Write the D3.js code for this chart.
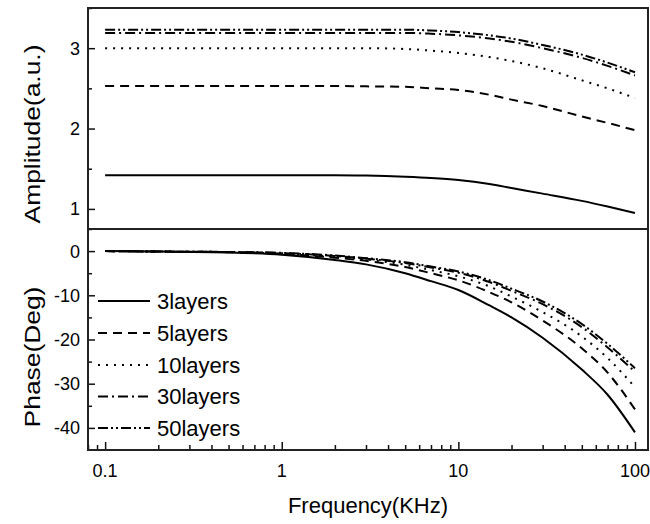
<!DOCTYPE html>
<html>
<head>
<meta charset="utf-8">
<script src="https://cdn.jsdelivr.net/npm/d3@7"></script>
<style>
  body { margin: 0; background: #fff; }
  svg { font-family: Arial, "Liberation Sans", sans-serif; }
</style>
</head>
<body>
<svg id="chart" width="650" height="524"></svg>
<script>
// Data
const freqs = [0.1, 0.2, 0.5, 1, 2, 3, 5, 7, 10, 15, 20, 30, 50, 70, 100];
const seriesNames = ['3layers', '5layers', '10layers', '30layers', '50layers'];

const amp3 = [1.42, 1.42, 1.42, 1.42, 1.42, 1.415, 1.40, 1.385, 1.36, 1.31, 1.26, 1.19, 1.10, 1.03, 0.95];
const amp5 = [2.53, 2.53, 2.53, 2.53, 2.53, 2.525, 2.52, 2.50, 2.48, 2.42, 2.36, 2.28, 2.15, 2.07, 1.98];
const amp10 = [3.0, 3.0, 3.0, 3.0, 3.0, 3.0, 2.99, 2.97, 2.94, 2.89, 2.84, 2.75, 2.60, 2.50, 2.38];
const amp30 = [3.19, 3.19, 3.19, 3.19, 3.19, 3.19, 3.19, 3.18, 3.16, 3.12, 3.08, 3.0, 2.88, 2.78, 2.66];
const amp50 = [3.23, 3.23, 3.23, 3.23, 3.23, 3.23, 3.23, 3.22, 3.20, 3.16, 3.12, 3.04, 2.92, 2.82, 2.70];

const ph3 = [0, -0.1, -0.3, -0.8, -2.0, -3.0, -5.0, -6.8, -8.8, -12.3, -15.0, -19.6, -26.8, -32.5, -41.0];
const ph5 = [0, -0.1, -0.25, -0.6, -1.5, -2.2, -3.6, -5.0, -6.6, -9.3, -11.6, -15.7, -22.0, -27.5, -35.8];
const ph10 = [0, -0.1, -0.2, -0.5, -1.3, -1.9, -3.1, -4.3, -5.7, -8.0, -10.3, -13.8, -19.3, -24.2, -30.8];
const ph30 = [0, -0.1, -0.2, -0.45, -1.1, -1.7, -2.7, -3.7, -4.9, -7.0, -9.0, -12.0, -17.2, -21.8, -27.3];
const ph50 = [0, -0.1, -0.2, -0.4, -1.0, -1.6, -2.5, -3.5, -4.6, -6.6, -8.5, -11.4, -16.5, -21.0, -26.5];

const ampSeries = [amp3, amp5, amp10, amp30, amp50];
const phaseSeries = [ph3, ph5, ph10, ph30, ph50];

const xTickLabels = [0.1, 1, 10, 100];
const ampTicks = [1, 2, 3];
const phaseTicks = [0, -10, -20, -30, -40];

// line styles per series
const dashes = ['none', '9,6', '2,6', '10,4,2,4', '10,3,2,3,2,3'];

const svg = d3.select('#chart');

const plotLeft = 88, plotRight = 648, plotTop = 8, plotMid = 229, plotBottom = 450;

const x = d3.scaleLog().domain([0.08, 118.5]).range([plotLeft, plotRight]);
const yAmp = d3.scaleLinear().domain([0.75, 3.5]).range([plotMid, plotTop]);
const yPh = d3.scaleLinear().domain([-45, 5]).range([plotBottom, plotMid]);

// minor tick values
const xMinor = [];
[0.01, 0.1, 1, 10].forEach(d => {
    for (let k = 2; k <= 9; k++) {
        const v = +(d * k).toPrecision(3);
        if (v >= 0.08 && v <= 118.5) xMinor.push(v);
    }
});

// axes (ticks pointing inward)
svg.append('g')
    .attr('transform', `translate(0,${plotBottom})`)
    .call(d3.axisTop(x).tickValues(xMinor).tickSize(5).tickFormat(''))
    .call(g => g.select('.domain').remove());

svg.append('g')
    .attr('transform', `translate(0,${plotBottom})`)
    .call(d3.axisTop(x).tickValues(xTickLabels).tickSize(8).tickFormat(''))
    .call(g => g.select('.domain').remove());

svg.selectAll('.xlab')
    .data(xTickLabels)
    .enter()
    .append('text')
    .attr('x', d => x(d))
    .attr('y', 477)
    .attr('text-anchor', 'middle')
    .attr('font-size', 18)
    .text(d => d);

svg.append('g')
    .attr('transform', `translate(${plotLeft},0)`)
    .call(d3.axisRight(yAmp).tickValues([1.5, 2.5, 3.5]).tickSize(4).tickFormat(''))
    .call(g => g.select('.domain').remove());

svg.append('g')
    .attr('transform', `translate(${plotLeft},0)`)
    .call(d3.axisRight(yAmp).tickValues(ampTicks).tickSize(7).tickFormat(''))
    .call(g => g.select('.domain').remove());

svg.append('g')
    .attr('transform', `translate(${plotLeft},0)`)
    .call(d3.axisRight(yPh).tickValues([5, -5, -15, -25, -35]).tickSize(4).tickFormat(''))
    .call(g => g.select('.domain').remove());

svg.append('g')
    .attr('transform', `translate(${plotLeft},0)`)
    .call(d3.axisRight(yPh).tickValues(phaseTicks).tickSize(7).tickFormat(''))
    .call(g => g.select('.domain').remove());

svg.selectAll('.tick line').attr('stroke', '#111').attr('stroke-width', 1.5);

svg.selectAll('.alab')
    .data(ampTicks)
    .enter()
    .append('text')
    .attr('x', 80)
    .attr('y', d => yAmp(d))
    .attr('dy', '0.36em')
    .attr('text-anchor', 'end')
    .attr('font-size', 18)
    .text(d => d);

svg.selectAll('.plab')
    .data(phaseTicks)
    .enter()
    .append('text')
    .attr('x', 80)
    .attr('y', d => yPh(d))
    .attr('dy', '0.36em')
    .attr('text-anchor', 'end')
    .attr('font-size', 18)
    .text(d => d);

// curves
const lineAmp = d3.line()
    .x((d, i) => x(freqs[i]))
    .y(d => yAmp(d))
    .curve(d3.curveMonotoneX);

const linePh = d3.line()
    .x((d, i) => x(freqs[i]))
    .y(d => yPh(d))
    .curve(d3.curveMonotoneX);

ampSeries.forEach((s, i) => {
    svg.append('path')
        .attr('d', lineAmp(s))
        .attr('fill', 'none')
        .attr('stroke', '#000')
        .attr('stroke-width', 2)
        .attr('stroke-dasharray', dashes[i]);
});

phaseSeries.forEach((s, i) => {
    svg.append('path')
        .attr('d', linePh(s))
        .attr('fill', 'none')
        .attr('stroke', '#000')
        .attr('stroke-width', 2)
        .attr('stroke-dasharray', dashes[i]);
});

// frames
svg.append('rect')
    .attr('x', plotLeft).attr('y', plotTop)
    .attr('width', plotRight - plotLeft).attr('height', plotMid - plotTop)
    .attr('fill', 'none').attr('stroke', '#222').attr('stroke-width', 2);

svg.append('rect')
    .attr('x', plotLeft).attr('y', plotMid)
    .attr('width', plotRight - plotLeft).attr('height', plotBottom - plotMid)
    .attr('fill', 'none').attr('stroke', '#222').attr('stroke-width', 2);

// legend
const legendY = [301, 333, 365, 396.5, 428];

seriesNames.forEach((name, i) => {
    svg.append('line')
        .attr('x1', 98).attr('x2', 150)
        .attr('y1', legendY[i]).attr('y2', legendY[i])
        .attr('stroke', '#000')
        .attr('stroke-width', 2)
        .attr('stroke-dasharray', dashes[i]);

    svg.append('text')
        .attr('x', 157)
        .attr('y', legendY[i])
        .attr('dy', '0.36em')
        .attr('font-size', 22)
        .text(name);
});

// axis titles (stretched a bit along the text, as in the figure)
svg.append('text')
    .attr('transform', 'translate(40,134) rotate(-90) scale(1.2,1)')
    .attr('text-anchor', 'middle')
    .attr('font-size', 22)
    .text('Amplitude(a.u.)');

svg.append('text')
    .attr('transform', 'translate(40,357) rotate(-90) scale(1.2,1)')
    .attr('text-anchor', 'middle')
    .attr('font-size', 22)
    .text('Phase(Deg)');

svg.append('text')
    .attr('x', 368)
    .attr('y', 513)
    .attr('text-anchor', 'middle')
    .attr('font-size', 22)
    .text('Frequency(KHz)');
</script>
</body>
</html>
